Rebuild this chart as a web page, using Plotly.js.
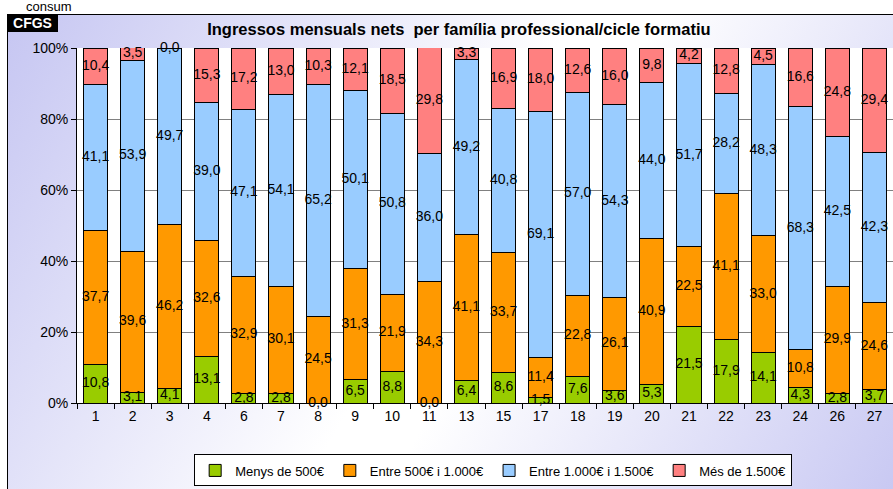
<!DOCTYPE html>
<html>
<head>
<meta charset="utf-8">
<script src="https://cdn.plot.ly/plotly-3.0.1.min.js"></script>
<style>
html,body{margin:0;padding:0;width:893px;height:489px;overflow:hidden;background:#fff;font-family:"Liberation Sans",Arial,sans-serif;}
#frame{position:absolute;left:7px;top:14px;width:900px;height:500px;border:1px solid #000;box-sizing:border-box;
 background:linear-gradient(120deg,#c6c6f2 0%,#ffffff 48%,#ffffff 55%,#c6c6f2 100%);}
#chart{position:absolute;left:0;top:0;width:893px;height:489px;}
#cfgs{position:absolute;left:7px;top:14px;width:51px;height:18px;background:#000;color:#fff;font-weight:bold;font-size:14px;line-height:18px;text-align:center;}
#consum{position:absolute;left:26px;top:0px;font-size:13px;line-height:13px;color:#000;}
</style>
</head>
<body>
<div id="consum">consum</div>
<div id="frame"></div>
<div id="chart"></div>
<div id="cfgs">CFGS</div>
<script>
const categories = ["1","2","3","4","6","7","8","9","10","11","13","15","17","18","19","20","21","22","23","24","26","27"];
const seriesNames = ["Menys de 500€","Entre 500€ i 1.000€","Entre 1.000€ i 1.500€","Més de 1.500€"];
const menys500 =   [10.8, 3.1, 4.1,13.1, 2.8, 2.8, 0.0, 6.5, 8.8, 0.0, 6.4, 8.6, 1.5, 7.6, 3.6, 5.3,21.5,17.9,14.1, 4.3, 2.8, 3.7];
const entre500 =   [37.7,39.6,46.2,32.6,32.9,30.1,24.5,31.3,21.9,34.3,41.1,33.7,11.4,22.8,26.1,40.9,22.5,41.1,33.0,10.8,29.9,24.6];
const entre1000 =  [41.1,53.9,49.7,39.0,47.1,54.1,65.2,50.1,50.8,36.0,49.2,40.8,69.1,57.0,54.3,44.0,51.7,28.2,48.3,68.3,42.5,42.3];
const mes1500 =    [10.4, 3.5, 0.0,15.3,17.2,13.0,10.3,12.1,18.5,29.8, 3.3,16.9,18.0,12.6,16.0, 9.8, 4.2,12.8, 4.5,16.6,24.8,29.4];
const colors = ["#99cc00","#ff9900","#99ccff","#ff8080"];

const series = [menys500, entre500, entre1000, mes1500];
const traces = [];
const base = categories.map(() => 0);
series.forEach((vals, i) => {
  traces.push({
    type: "bar", x: categories, y: vals, name: seriesNames[i],
    marker: {color: colors[i], line: {color: "#000", width: 1}},
    hoverinfo: "skip"
  });
});
// label traces at segment centres
series.forEach((vals, i) => {
  const ys = vals.map((v, k) => base[k] + v / 2);
  vals.forEach((v, k) => base[k] += v);
  traces.push({
    type: "scatter", mode: "text", x: categories, y: ys,
    text: vals.map(v => v.toFixed(1).replace(".", ",")),
    textposition: "middle center",
    textfont: {family: "Liberation Sans, Arial, sans-serif", size: 14, color: "#000"},
    showlegend: false, hoverinfo: "skip", cliponaxis: false
  });
});

const layout = {
  width: 893, height: 489,
  paper_bgcolor: "rgba(0,0,0,0)", plot_bgcolor: "#fff",
  margin: {l: 77, r: 0, t: 48, b: 86},
  barmode: "stack", bargap: 0.35,
  font: {family: "Liberation Sans, Arial, sans-serif", size: 14, color: "#000"},
  title: {text: "<b>Ingressos mensuals nets  per família professional/cicle formatiu</b>",
    font: {size: 16.5, color: "#000"}, xref: "paper", x: 0.468, xanchor: "center",
    yref: "container", y: 0.94, yanchor: "middle"},
  xaxis: {type: "category", range: [-0.5, categories.length - 0.5], autorange: false,
    showline: true, linecolor: "#000", linewidth: 1,
    ticks: "outside", tickson: "boundaries", ticklen: 5, tickcolor: "#000",
    showgrid: false, tickfont: {size: 14}},
  yaxis: {range: [0, 100], autorange: false, tickvals: [0,20,40,60,80,100], ticktext: ["0%","20%","40%","60%","80%","100%"],
    showline: true, linecolor: "#000", linewidth: 1, ticks: "outside", ticklen: 5, tickcolor: "#000",
    showgrid: true, gridcolor: "#808080", gridwidth: 1, zeroline: false, tickfont: {size: 14}},
  showlegend: true,
  legend: {orientation: "h", xref: "paper", x: 0.51, xanchor: "center", yref: "paper", y: -0.145, yanchor: "top",
    bgcolor: "#fff", bordercolor: "#000", borderwidth: 1, font: {size: 13},
    traceorder: "normal", itemwidth: 30, tracegroupgap: 0}
};
Plotly.newPlot("chart", traces, layout, {staticPlot: true, displayModeBar: false});
</script>
</body>
</html>
